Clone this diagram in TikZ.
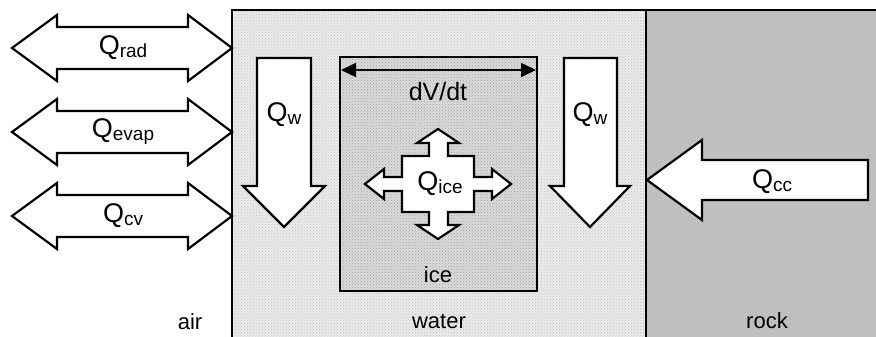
\documentclass[tikz,border=0pt]{standalone}
\usepackage{fontspec}
\setmainfont{Liberation Sans}
\usetikzlibrary{patterns,arrows.meta}
\newcommand{\Qlab}[1]{{\fontsize{27}{27}\selectfont Q}\raisebox{-3pt}{\fontsize{19}{19}\selectfont #1}}
\tikzset{
  flow/.style={draw=black, line width=2.2pt, fill=white, line join=miter},
  region/.style={draw=black, line width=1.6pt},
  lab/.style={inner sep=0pt, font=\fontsize{22}{22}\selectfont},
  qlab/.style={inner sep=0pt},
}
\begin{document}
\begin{tikzpicture}[x=1pt,y=-1pt]
\useasboundingbox (0,0) rectangle (876,337);
\fill[white] (0,0) rectangle (876,337);
% water
\fill[white!92!black] (232,10) rectangle (646,340);
\fill[pattern=crosshatch dots, pattern color=white!75!black] (232,10) rectangle (646,340);
% rock
\fill[white!75!black] (646,10) rectangle (880,340);
\draw[region] (232,340) -- (232,10) -- (880,10);
\draw[region] (646,10) -- (646,340);
% ice box
\fill[white!86!black] (340,57) rectangle (537,291);
\fill[pattern=crosshatch dots, pattern color=white!62!black] (340,57) rectangle (537,291);
\draw[region] (340,57) rectangle (537,291);
\coordinate (dvl) at (341,70);
\coordinate (dvr) at (536,70);
\draw[line width=1.6pt, {Triangle[length=15pt,width=14pt]}-{Triangle[length=15pt,width=14pt]}] (dvl) -- (dvr);
% left double arrows
\foreach \cy in {48,132,216}{
  \draw[flow] (12,\cy) -- (57,\cy-33) -- (57,\cy-21) -- (188,\cy-21) -- (188,\cy-33) -- (232,\cy)
    -- (188,\cy+33) -- (188,\cy+21) -- (57,\cy+21) -- (57,\cy+33) -- cycle;
}
% Qw arrows
\draw[flow] (257,58) -- (311,58) -- (311,186) -- (325,186) -- (284,227) -- (243,186) -- (257,186) -- cycle;
\draw[flow] (564,58) -- (617,58) -- (617,186) -- (630,186) -- (590,227) -- (550,186) -- (564,186) -- cycle;
% Qcc arrow
\draw[flow] (647,180) -- (702,140) -- (702,160) -- (868,160) -- (868,200) -- (702,200) -- (702,220) -- cycle;
% Qice cross
\draw[flow] (402,156) -- (429,156) -- (429,143) -- (417,143) -- (438,129) -- (459,143) -- (448,143) -- (448,156)
  -- (474,156) -- (474,177) -- (492,177) -- (492,169) -- (511,184) -- (492,199) -- (492,191) -- (474,191)
  -- (474,212) -- (448,212) -- (448,225) -- (459,225) -- (438,239) -- (417,225) -- (429,225) -- (429,212)
  -- (402,212) -- (402,191) -- (384,191) -- (384,199) -- (365,184) -- (384,169) -- (384,177) -- (402,177) -- cycle;
% labels
\node[qlab] (qrad) at (123,48) {\Qlab{rad}};
\node[qlab] (qevap) at (123,132) {\Qlab{evap}};
\node[qlab] (qcv) at (123,216) {\Qlab{cv}};
\node[qlab] (qw1) at (284,115) {\Qlab{w}};
\node[qlab] (qw2) at (590,115) {\Qlab{w}};
\node[qlab] (qice) at (440,184) {\Qlab{ice}};
\node[qlab] (qcc) at (772,182) {\Qlab{cc}};
\node[lab, font=\fontsize{25}{25}\selectfont] (dvdt) at (438,92) {dV/dt};
\node[lab] (ice) at (438,275) {ice};
\node[lab] (water) at (439,321) {water};
\node[lab] (air) at (190,322) {air};
\node[lab] (rock) at (767,321) {rock};
\end{tikzpicture}
\end{document}
